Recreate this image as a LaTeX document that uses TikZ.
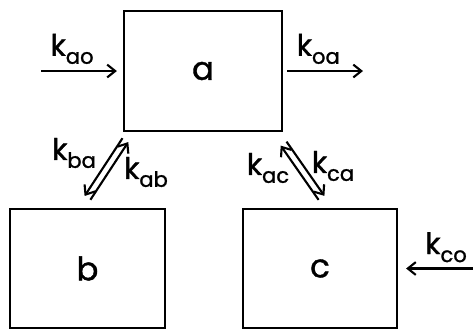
\documentclass[tikz,border=0pt]{standalone}
\usepackage{fontspec}
\setmainfont{Poppins}[UprightFeatures={FakeBold=1.2}]
\usetikzlibrary{arrows.meta,calc}

\newcommand{\rate}[1]{k\raisebox{-2mm}{\fontsize{15}{15}\selectfont #1}}

\tikzset{
  pool/.style={draw, line width=1.6pt, minimum width=39.5mm, minimum height=30mm,
    inner sep=0pt, font=\fontsize{23}{23}\selectfont},
  flow/.style={line width=1.5pt, -{Straight Barb[length=2mm,width=3.2mm]}},
  ratelabel/.style={inner sep=0pt, font=\fontsize{21}{21}\selectfont},
}

\begin{document}
\begin{tikzpicture}[x=0.25mm, y=-0.25mm]
\path[use as bounding box, clip] (0,0) rectangle (473,328);
% compartments
\node[pool] (a) at (203,71) {a};
\node[pool, minimum width=38.75mm, minimum height=29.75mm] (b) at (87.5,268.5) {b};
\node[pool, minimum width=38.5mm, minimum height=29.75mm] (c) at (320,268.5) {c};
% input and output
\coordinate (ao) at (41,71);
\coordinate (oa) at (363,71);
\coordinate (co) at (478,268.5);
\draw[flow, shorten >=1.5mm] (ao) -- (a.west)
  node[ratelabel, pos=0.38, above=1.5mm] {\rate{ao}};
\draw[flow, shorten <=1mm] (a.east) -- (oa)
  node[ratelabel, pos=0.44, above=1.5mm] {\rate{oa}};
\draw[flow, shorten >=2mm] (co) -- (c.east)
  node[ratelabel, pos=0.4, above=1.3mm] {\rate{co}};
% exchange a-b
\coordinate (ab top) at ($(a.south west)+(2.5,8)$);
\coordinate (ab bot) at ($(b.north)+(0,-10)$);
\draw[flow] ([shift={(-2.9,-1.9)}]ab top) -- ([shift={(-2.9,-1.9)}]ab bot);
\draw[flow] ([shift={(2.9,1.9)}]ab bot) -- ([shift={(2.9,1.9)}]ab top);
\node[ratelabel] (kba) at (74,153) {\rate{ba}};
\node[ratelabel] (kab) at (146,172) {\rate{ab}};
% exchange a-c
\coordinate (ac top) at ($(a.south east)+(0.5,11.5)$);
\coordinate (ac bot) at ($(c.north)+(1.5,-10)$);
\draw[flow] ([shift={(-2.9,2)}]ac bot) -- ([shift={(-2.9,2)}]ac top);
\draw[flow] ([shift={(2.9,-2)}]ac top) -- ([shift={(2.9,-2)}]ac bot);
\node[ratelabel] (kac) at (268,168) {\rate{ac}};
\node[ratelabel] (kca) at (333,166) {\rate{ca}};
\end{tikzpicture}
\end{document}
